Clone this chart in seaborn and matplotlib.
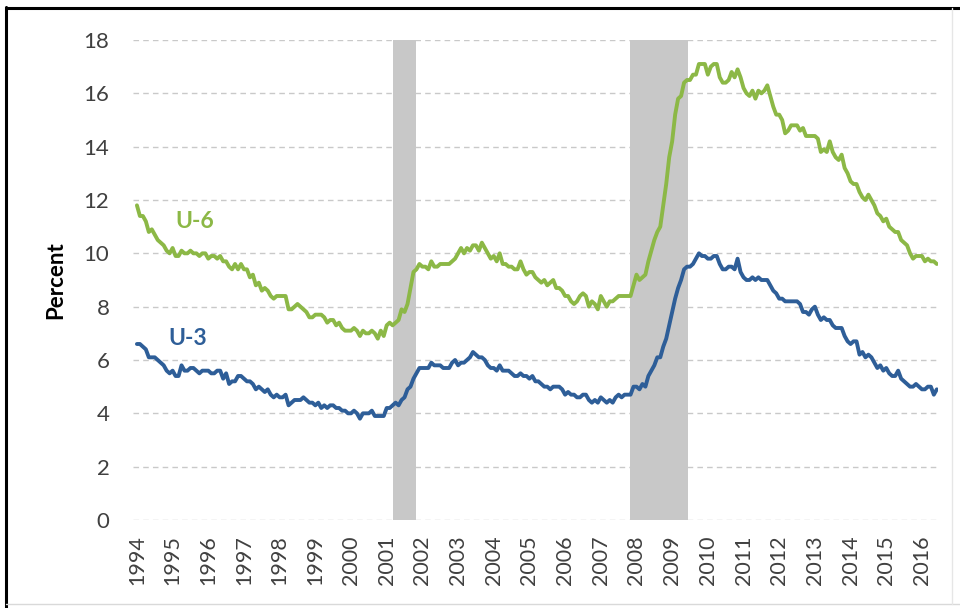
import numpy as np
import pandas as pd
import matplotlib
matplotlib.use("Agg")
import matplotlib.pyplot as plt
from matplotlib.lines import Line2D
import seaborn as sns

# ---- data: monthly rates, Jan 1994 .. Jun 2016 ----
u3 = [
    6.6, 6.6, 6.5, 6.4, 6.1, 6.1, 6.1, 6.0, 5.9, 5.8, 5.6, 5.5,   # 1994
    5.6, 5.4, 5.4, 5.8, 5.6, 5.6, 5.7, 5.7, 5.6, 5.5, 5.6, 5.6,   # 1995
    5.6, 5.5, 5.5, 5.6, 5.6, 5.3, 5.5, 5.1, 5.2, 5.2, 5.4, 5.4,   # 1996
    5.3, 5.2, 5.2, 5.1, 4.9, 5.0, 4.9, 4.8, 4.9, 4.7, 4.6, 4.7,   # 1997
    4.6, 4.6, 4.7, 4.3, 4.4, 4.5, 4.5, 4.5, 4.6, 4.5, 4.4, 4.4,   # 1998
    4.3, 4.4, 4.2, 4.3, 4.2, 4.3, 4.3, 4.2, 4.2, 4.1, 4.1, 4.0,   # 1999
    4.0, 4.1, 4.0, 3.8, 4.0, 4.0, 4.0, 4.1, 3.9, 3.9, 3.9, 3.9,   # 2000
    4.2, 4.2, 4.3, 4.4, 4.3, 4.5, 4.6, 4.9, 5.0, 5.3, 5.5, 5.7,   # 2001
    5.7, 5.7, 5.7, 5.9, 5.8, 5.8, 5.8, 5.7, 5.7, 5.7, 5.9, 6.0,   # 2002
    5.8, 5.9, 5.9, 6.0, 6.1, 6.3, 6.2, 6.1, 6.1, 6.0, 5.8, 5.7,   # 2003
    5.7, 5.6, 5.8, 5.6, 5.6, 5.6, 5.5, 5.4, 5.4, 5.5, 5.4, 5.4,   # 2004
    5.3, 5.4, 5.2, 5.2, 5.1, 5.0, 5.0, 4.9, 5.0, 5.0, 5.0, 4.9,   # 2005
    4.7, 4.8, 4.7, 4.7, 4.6, 4.6, 4.7, 4.7, 4.5, 4.4, 4.5, 4.4,   # 2006
    4.6, 4.5, 4.4, 4.5, 4.4, 4.6, 4.7, 4.6, 4.7, 4.7, 4.7, 5.0,   # 2007
    5.0, 4.9, 5.1, 5.0, 5.4, 5.6, 5.8, 6.1, 6.1, 6.5, 6.8, 7.3,   # 2008
    7.8, 8.3, 8.7, 9.0, 9.4, 9.5, 9.5, 9.6, 9.8, 10.0, 9.9, 9.9,  # 2009
    9.8, 9.8, 9.9, 9.9, 9.6, 9.4, 9.4, 9.5, 9.5, 9.4, 9.8, 9.3,   # 2010
    9.1, 9.0, 9.0, 9.1, 9.0, 9.1, 9.0, 9.0, 9.0, 8.8, 8.6, 8.5,   # 2011
    8.3, 8.3, 8.2, 8.2, 8.2, 8.2, 8.2, 8.1, 7.8, 7.8, 7.7, 7.9,   # 2012
    8.0, 7.7, 7.5, 7.6, 7.5, 7.5, 7.3, 7.2, 7.2, 7.2, 6.9, 6.7,   # 2013
    6.6, 6.7, 6.7, 6.2, 6.3, 6.1, 6.2, 6.1, 5.9, 5.7, 5.8, 5.6,   # 2014
    5.7, 5.5, 5.4, 5.4, 5.6, 5.3, 5.2, 5.1, 5.0, 5.0, 5.1, 5.0,   # 2015
    4.9, 4.9, 5.0, 5.0, 4.7, 4.9,                                 # 2016
]
u6 = [
    11.8, 11.4, 11.4, 11.2, 10.8, 10.9, 10.7, 10.5, 10.4, 10.3, 10.1, 10.0,  # 1994
    10.2, 9.9, 9.9, 10.1, 10.0, 10.0, 10.1, 10.0, 10.0, 9.9, 10.0, 10.0,     # 1995
    9.8, 9.9, 9.9, 9.8, 9.9, 9.7, 9.7, 9.5, 9.4, 9.6, 9.4, 9.6,              # 1996
    9.4, 9.4, 9.1, 9.2, 8.8, 8.9, 8.6, 8.7, 8.6, 8.4, 8.3, 8.4,              # 1997
    8.4, 8.4, 8.4, 7.9, 7.9, 8.0, 8.1, 8.0, 7.9, 7.8, 7.6, 7.6,              # 1998
    7.7, 7.7, 7.7, 7.6, 7.4, 7.5, 7.5, 7.3, 7.4, 7.2, 7.1, 7.1,              # 1999
    7.1, 7.2, 7.1, 6.9, 7.1, 7.0, 7.0, 7.1, 7.0, 6.8, 7.1, 6.9,              # 2000
    7.3, 7.4, 7.3, 7.4, 7.5, 7.9, 7.8, 8.1, 8.7, 9.3, 9.4, 9.6,              # 2001
    9.5, 9.5, 9.4, 9.7, 9.5, 9.5, 9.6, 9.6, 9.6, 9.6, 9.7, 9.8,              # 2002
    10.0, 10.2, 10.0, 10.2, 10.1, 10.3, 10.3, 10.1, 10.4, 10.2, 10.0, 9.8,   # 2003
    9.9, 9.7, 10.0, 9.6, 9.6, 9.5, 9.5, 9.4, 9.4, 9.7, 9.4, 9.2,             # 2004
    9.3, 9.3, 9.1, 9.0, 8.9, 9.0, 8.8, 8.9, 9.0, 8.7, 8.7, 8.6,              # 2005
    8.4, 8.4, 8.2, 8.1, 8.2, 8.4, 8.5, 8.4, 8.0, 8.2, 8.1, 7.9,              # 2006
    8.4, 8.2, 8.0, 8.2, 8.2, 8.3, 8.4, 8.4, 8.4, 8.4, 8.4, 8.8,              # 2007
    9.2, 9.0, 9.1, 9.2, 9.7, 10.1, 10.5, 10.8, 11.0, 11.8, 12.6, 13.6,       # 2008
    14.2, 15.2, 15.8, 15.9, 16.4, 16.5, 16.5, 16.7, 16.7, 17.1, 17.1, 17.1,  # 2009
    16.7, 17.0, 17.1, 17.1, 16.6, 16.4, 16.4, 16.5, 16.8, 16.6, 16.9, 16.6,  # 2010
    16.2, 16.0, 15.9, 16.1, 15.8, 16.1, 16.0, 16.1, 16.3, 15.9, 15.5, 15.2,  # 2011
    15.2, 15.0, 14.5, 14.6, 14.8, 14.8, 14.8, 14.6, 14.7, 14.4, 14.4, 14.4,  # 2012
    14.4, 14.3, 13.8, 13.9, 13.8, 14.2, 13.8, 13.6, 13.5, 13.7, 13.2, 13.0,  # 2013
    12.7, 12.6, 12.6, 12.3, 12.1, 12.0, 12.2, 12.0, 11.8, 11.5, 11.4, 11.2,  # 2014
    11.3, 11.0, 10.9, 10.8, 10.8, 10.5, 10.4, 10.3, 10.0, 9.8, 9.9, 9.9,     # 2015
    9.9, 9.7, 9.8, 9.7, 9.7, 9.6,                                             # 2016
]
start_year = 1994
year_ticks = list(range(1994, 2017))
recessions = [(2001.17, 2001.83), (2007.83, 2009.45)]
y_ticks = [0, 2, 4, 6, 8, 10, 12, 14, 16, 18]

n = len(u3)
t = start_year + np.arange(n) / 12.0
df = pd.DataFrame({"t": np.concatenate([t, t]),
                   "rate": u6 + u3,
                   "series": ["U-6"] * n + ["U-3"] * n})

GREEN = "#8cb846"
BLUE = "#2e5e98"
GRID = "#c9c9c9"
TXT = "#404040"

sns.set_theme(style="white")
plt.rcParams["font.family"] = ["Lato", "DejaVu Sans"]

fig = plt.figure(figsize=(9.6, 6.08), dpi=100)
ax = fig.add_axes([133 / 960, (608 - 520) / 608, (938 - 133) / 960, 480 / 608])

for a, b in recessions:
    ax.axvspan(a, b, color="#c8c8c8", lw=0, zorder=1)

for y in y_ticks:
    ax.axhline(y, color=GRID, lw=1.0, ls=(0, (4, 3)), zorder=0.5)

sns.lineplot(data=df, x="t", y="rate", hue="series",
             palette={"U-6": GREEN, "U-3": BLUE}, lw=2.8,
             legend=False, ax=ax, zorder=3)

ax.set_xlim(1993.89, 2016.45)
ax.set_ylim(0, 18)
ax.set_yticks(y_ticks)
ax.set_yticklabels([str(v) for v in y_ticks], fontsize=16, color=TXT)
ax.set_xticks(year_ticks)
ax.set_xticklabels([str(v) for v in year_ticks], rotation=90,
                   fontsize=15.5, color=TXT)
ax.tick_params(axis="both", length=0)
ax.tick_params(axis="y", pad=17)
ax.tick_params(axis="x", pad=11)
ax.set_xlabel("")
ax.set_ylabel("Percent", fontsize=16, fontweight="bold", color="black")
ax.yaxis.set_label_coords(-0.083, 0.5)
for s in ax.spines.values():
    s.set_visible(False)

ax.text(1995.62, 11.21, "U-6", color=GREEN, fontsize=16.5, fontweight="bold",
        ha="center", va="center")
ax.text(1995.43, 6.82, "U-3", color=BLUE, fontsize=16.5, fontweight="bold",
        ha="center", va="center")

# outer frame
W, H = 960, 608
fig.add_artist(Line2D([6 / W, 6 / W], [0, 1 - 7 / H], color="black", lw=2.2))
fig.add_artist(Line2D([6 / W, 1], [1 - 8 / H, 1 - 8 / H], color="black", lw=2.2))
fig.add_artist(Line2D([6 / W, 1], [4 / H, 4 / H], color="#d9d9d9", lw=1))
fig.add_artist(Line2D([952 / W, 952 / W], [4 / H, 1 - 8 / H], color="#e6e6e6", lw=1))

fig.savefig("out.png", dpi=100)
